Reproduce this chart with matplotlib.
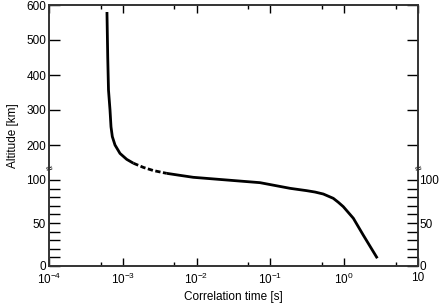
import numpy as np
import matplotlib
matplotlib.use('Agg')
import matplotlib.pyplot as plt
from matplotlib.ticker import LogLocator, NullFormatter

plt.rcParams['font.family'] = ['Liberation Sans', 'DejaVu Sans']
plt.rcParams['mathtext.fontset'] = 'custom'
plt.rcParams['mathtext.rm'] = 'Liberation Sans'
plt.rcParams['mathtext.it'] = 'Liberation Sans'

# correlation time [s] vs altitude [km]
tau_upper = [6.1e-4, 6.25e-4, 6.4e-4, 6.71e-4, 6.92e-4, 7.21e-4, 7.84e-4,
             9.16e-4, 1.13e-3, 1.39e-3]
alt_upper = [580, 450, 357, 300, 252, 224, 200, 176, 159, 148]
tau_dashed = [1.39e-3, 1.9e-3, 2.59e-3, 3.54e-3, 3.94e-3]
alt_dashed = [148, 136, 127, 121, 119]
tau_lower = [3.94e-3, 5.65e-3, 9.0e-3, 0.0256, 0.0723, 0.185, 0.31, 0.402,
             0.521, 0.711, 0.832, 0.972, 1.33, 1.81, 2.81]
alt_lower = [119, 114, 107.7, 100, 96.9, 90.3, 87.6, 86.0, 83.7, 78.7, 74.1,
             69.0, 55.5, 36.0, 9.0]

xticks = [1e-4, 1e-3, 1e-2, 1e-1, 1e0, 1e1]
xticklabels = ['$10^{-4}$', '$10^{-3}$', '$10^{-2}$', '$10^{-1}$', '$10^{0}$', '10']
yticks = list(range(0, 101, 10)) + [200, 300, 400, 500, 600]
yticklabels_left = ['0', '', '', '', '', '50', '', '', '', '', '100',
                    '200', '300', '400', '500', '600']
yticklabels_right = ['0', '', '', '', '', '50', '', '', '', '', '100',
                     '', '', '', '', '']

# broken altitude axis: 0-100 km stretched, 100-600 km compressed
r = 0.35 / 0.86

def fwd(y):
    y = np.asarray(y, dtype=float)
    return np.where(y <= 100, y, 100 + (y - 100) * r)

def inv(v):
    v = np.asarray(v, dtype=float)
    return np.where(v <= 100, v, 100 + (v - 100) / r)

fig = plt.figure(figsize=(4.4, 3.05), dpi=100)
ax = fig.add_axes([49 / 440, 1 - 266 / 305, 369 / 440, 261 / 305])
ax.set_xscale('log')
ax.set_yscale('function', functions=(fwd, inv))

lw = 2.0
ax.plot(tau_upper, alt_upper, color='black', lw=lw, solid_capstyle='butt')
ax.plot(tau_dashed, alt_dashed, color='black', lw=lw, dashes=(1.9, 0.9))
ax.plot(tau_lower, alt_lower, color='black', lw=lw, solid_capstyle='butt')

ax.set_xlim(1e-4, 10)
ax.set_ylim(0, 600)
ax.set_xticks(xticks)
ax.set_xticklabels(xticklabels)
ax.xaxis.set_minor_locator(LogLocator(base=10, subs=[5]))
ax.xaxis.set_minor_formatter(NullFormatter())
ax.set_yticks(yticks)
ax.set_yticklabels(yticklabels_left)
ax.yaxis.set_minor_locator(plt.NullLocator())

fs = 8.5
ax.tick_params(axis='x', which='major', direction='in', top=True, length=6,
               width=1, labelsize=fs, pad=4)
ax.tick_params(axis='x', which='minor', direction='in', top=True, length=3, width=1)
ax.tick_params(axis='y', direction='in', length=8, width=1, labelsize=fs, pad=2)

ax2 = ax.twinx()
ax2.set_yscale('function', functions=(fwd, inv))
ax2.set_ylim(0, 600)
ax2.set_yticks(yticks)
ax2.set_yticklabels(yticklabels_right)
ax2.yaxis.set_minor_locator(plt.NullLocator())
ax2.tick_params(axis='y', direction='in', length=8, width=1, labelsize=fs, pad=1)

for a in (ax, ax2):
    for s in a.spines.values():
        s.set_linewidth(1.2)
        s.set_color('#333333')

# break marks on both vertical axes
for xpos in (0, 1):
    ax.text(xpos, 133, '\u2248', transform=ax.get_yaxis_transform(),
            ha='center', va='center', fontsize=7, family='DejaVu Sans',
            rotation=15, color='black')

ax.set_xlabel('Correlation time [s]', fontsize=fs, labelpad=3)
ax.set_ylabel('Altitude [km]', fontsize=fs, labelpad=5)

fig.savefig('out.png', dpi=100)
